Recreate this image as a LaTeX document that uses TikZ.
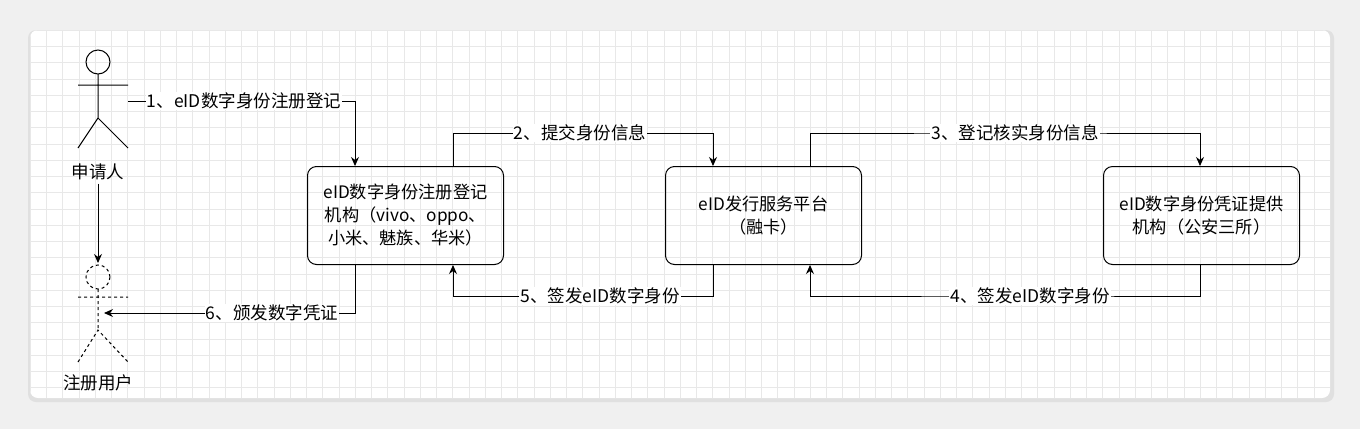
\documentclass[tikz,border=0pt]{standalone}
\usepackage{fontspec}
\setmainfont{Noto Sans CJK SC}
\usetikzlibrary{arrows.meta}
\begin{document}
\begin{tikzpicture}[x=1pt,y=-1pt,font=\fontsize{17.5}{21}\selectfont,
  box/.style={draw,line width=1pt,rounded corners=9pt,minimum width=196pt,minimum height=98pt,align=center,anchor=north west,inner sep=0pt,font=\fontsize{17.2}{23}\selectfont},
  conn/.style={line width=1pt,-{Stealth[length=9pt,width=8pt]}},
  lbl/.style={fill=white,inner sep=1pt}]
\useasboundingbox (0,0) rectangle (1360,429);
\fill[black!6] (0,0) rectangle (1360,429);
\fill[black!12,rounded corners=8pt] (28,30) rectangle (1334,402);
\fill[white,rounded corners=8pt] (30,30) rectangle (1330,398);
\begin{scope}
\clip[rounded corners=8pt] (30,30) rectangle (1330,398);
\foreach \x in {30,46.25,...,1330} \draw[black!9,line width=0.5pt] (\x,30) -- (\x,398);
\foreach \y in {30,46.25,...,398} \draw[black!9,line width=0.5pt] (30,\y) -- (1330,\y);
\end{scope}
% actor 1
\draw[line width=1pt] (98,62) circle (12);
\draw[line width=1pt] (98,74) -- (98,118) (78,85) -- (128,85) (78,148) -- (98,118) -- (128,148);
\node (a1) at (98,172) {申请人};
\coordinate (a1r) at (128,101);
% actor 2
\draw[line width=1pt,dashed] (98,277) circle (12);
\draw[line width=1pt,dashed] (98,289) -- (98,330) (78,297) -- (128,297) (78,362) -- (98,330) -- (128,362);
\node (a2) at (98,383) {注册用户};
\coordinate (a2t) at (98,263);
\coordinate (a2r) at (104,313);
\node[box] (b1) at (307,166) {eID数字身份注册登记\\机构（vivo、oppo、\\小米、魅族、华米）};
\node[box] (b2) at (665,166) {eID发行服务平台\\（融卡）};
\node[box] (b3) at (1103,166) {eID数字身份凭证提供\\机构（公安三所）};
\draw[conn] (a1.south) -- (a2t);
\draw[conn] (a1r) -| ([xshift=48pt]b1.north west);
\node[lbl] at (244,101) {1、eID数字身份注册登记};
\draw[conn] ([xshift=146pt]b1.north west) |- (580,133) -| ([xshift=48pt]b2.north west);
\node[lbl] at (580,133) {2、提交身份信息};
\draw[conn] ([xshift=145pt]b2.north west) |- (1015,133) -| ([xshift=97pt]b3.north west);
\node[lbl] at (1015,133) {3、登记核实身份信息};
\draw[conn] ([xshift=97pt]b3.south west) |- (1030,296) -| ([xshift=145pt]b2.south west);
\node[lbl] at (1030,296) {4、签发eID数字身份};
\draw[conn] ([xshift=48pt]b2.south west) |- (600,296) -| ([xshift=146pt]b1.south west);
\node[lbl] at (600,296) {5、签发eID数字身份};
\draw[conn] ([xshift=48pt]b1.south west) |- (a2r);
\node[lbl] at (272,313) {6、颁发数字凭证};
\end{tikzpicture}
\end{document}
